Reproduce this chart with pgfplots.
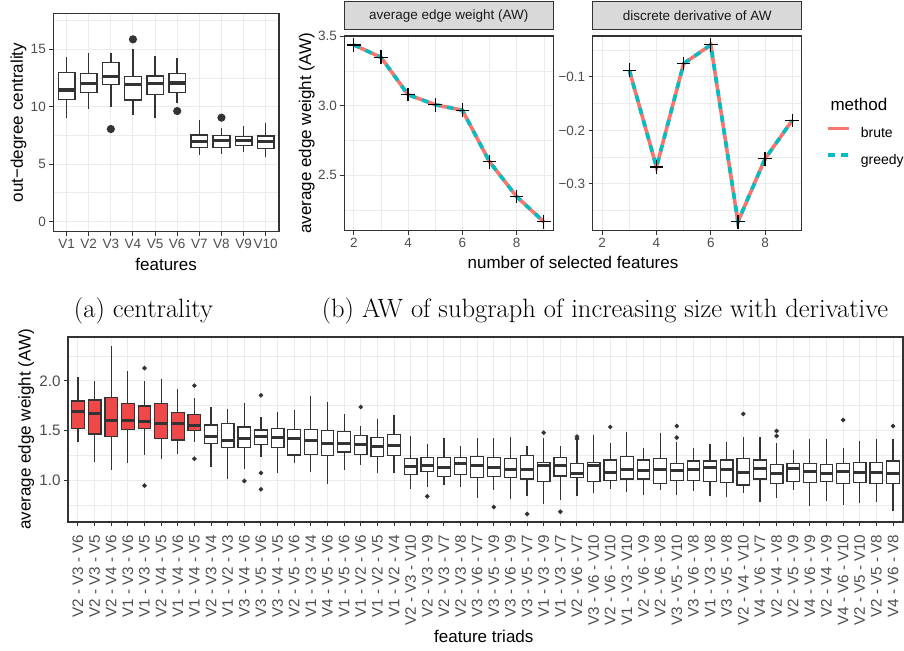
\documentclass[border=0pt]{standalone}
\usepackage{fontspec}
\usepackage{pgfplots}
\pgfplotsset{compat=1.18}
\usepgfplotslibrary{statistics}
\newfontfamily\lsans{Liberation Sans}
\definecolor{gray20}{HTML}{333333}
\definecolor{gray30}{HTML}{4D4D4D}
\definecolor{gray10}{HTML}{1A1A1A}
\definecolor{gray85}{HTML}{D9D9D9}
\definecolor{gray92}{HTML}{EBEBEB}
\definecolor{boxred}{RGB}{239,72,72}
\definecolor{brute}{HTML}{F8766D}
\definecolor{greedy}{HTML}{00BFC4}
\newcommand{\tickfont}{\lsans\fontsize{13.5}{16}\selectfont}
\newcommand{\bigtickfont}{\lsans\fontsize{15.2}{17}\selectfont}
\newcommand{\legfont}{\lsans\fontsize{14}{16}\selectfont}
\newcommand{\titlefont}{\lsans\fontsize{17}{20}\selectfont}
\pgfplotsset{
  gg/.style={
    scale only axis,
    anchor=north west,
    tick align=outside,
    tick pos=left,
    major tick length=4pt,
    minor tick length=0pt,
    tick style={draw=gray20, line width=1pt},
    axis line style={draw=gray20, line width=1.1pt},
    grid=both,
    major grid style={draw=gray92, line width=1pt},
    minor grid style={draw=gray92, line width=0.5pt},
    tick label style={font=\tickfont, text=gray30},
    label style={font=\titlefont, text=black},
    clip mode=individual,
  },
  bxa/.style={draw=gray20, line width=1.5pt, mark=*, mark size=3.3pt,
    mark options={fill=gray20, draw=gray20, solid},
    boxplot/draw direction=y,
    boxplot/box extend=0.75, boxplot/whisker extend=0,
    boxplot/every median/.style={line width=3.5pt}},
  bxb/.style={draw=gray20, line width=1.2pt, mark=*, mark size=1.6pt,
    mark options={fill=gray20, draw=gray20, solid},
    boxplot/draw direction=y,
    boxplot/box extend=0.76, boxplot/whisker extend=0,
    boxplot/every median/.style={line width=3pt}},
}
% #1 fill, #2 position, #3 lower whisker, #4 lower quartile, #5 median, #6 upper quartile, #7 upper whisker, #8 outliers
\newcommand{\ba}[8][white]{\addplot[bxa, fill=#1, boxplot prepared={draw position=#2, lower whisker=#3, lower quartile=#4, median=#5, upper quartile=#6, upper whisker=#7}] coordinates {#8};}
\newcommand{\bb}[8][white]{\addplot[bxb, fill=#1, boxplot prepared={draw position=#2, lower whisker=#3, lower quartile=#4, median=#5, upper quartile=#6, upper whisker=#7}] coordinates {#8};}

\begin{document}
\begin{tikzpicture}
\useasboundingbox (0,0) rectangle (904pt,-650pt);

% ---------------- (a) centrality
\begin{axis}[gg, at={(53.3pt,-13.3pt)}, width=225.7pt, height=218.4pt,
  xmin=0.4, xmax=10.6, ymin=-0.9, ymax=18.14,
  xtick={1,2,3,4,5,6,7,8,9,10},
  xticklabels={V1,V2,V3,V4,V5,V6,V7,V8,V9,V10},
  ytick={0,5,10,15}, yticklabels={0,5,10,15},
  minor ytick={2.5,7.5,12.5,17.5},
  xlabel={features}, ylabel={out−degree centrality},
  xlabel style={at={(axis description cs:0.5,-0.1786)}, anchor=base},
  ylabel style={at={(axis description cs:-0.1542,0.5)}, anchor=center},
]
\ba{1}{9.04}{10.64}{11.45}{13.0}{14.3}{}
\ba{2}{9.83}{11.22}{12.03}{12.91}{14.71}{}
\ba{3}{9.94}{11.95}{12.62}{13.84}{14.65}{(0,8.05)}
\ba{4}{9.27}{10.58}{11.95}{12.62}{15.0}{(0,15.87)}
\ba{5}{8.98}{11.08}{12.03}{12.67}{14.45}{}
\ba{6}{10.35}{11.22}{12.06}{12.88}{14.22}{(0,9.62)}
\ba{7}{5.78}{6.45}{6.95}{7.53}{8.84}{}
\ba{8}{5.84}{6.42}{7.03}{7.47}{8.11}{(0,9.04)}
\ba{9}{6.08}{6.63}{7.06}{7.38}{8.31}{}
\ba{10}{5.64}{6.37}{6.98}{7.44}{8.6}{}
\end{axis}

% ---------------- (b) left: AW
\begin{axis}[gg, at={(344.3pt,-36pt)}, width=209pt, height=194.7pt,
  xmin=1.65, xmax=9.35, ymin=2.101, ymax=3.501,
  xtick={2,4,6,8}, xticklabels={2,4,6,8}, minor xtick={3,5,7,9},
  ytick={2.5,3.0,3.5}, yticklabels={2.5,3.0,3.5}, minor ytick={2.25,2.75,3.25},
  title={average edge weight (AW)},
  title style={at={(0.5,1)}, anchor=south, yshift=0pt, draw=gray20, fill=gray85,
    line width=1.1pt, minimum width=209pt, minimum height=27.7pt, inner sep=0pt,
    font=\lsans\fontsize{13.5}{15}\selectfont, text=gray10},
  xlabel={number of selected features}, ylabel={average edge weight (AW)},
  xlabel style={at={(axis description cs:1.0943,-0.194)}, anchor=base},
  ylabel style={at={(axis description cs:-0.18,0.5)}, anchor=center},
]
\addplot[brute, line width=3.6pt] coordinates {(2,3.437) (3,3.348) (4,3.079) (5,3.007) (6,2.967) (7,2.597) (8,2.346) (9,2.165)};
\addplot[greedy, line width=3.6pt, dash pattern=on 6.5pt off 6.5pt] coordinates {(2,3.437) (3,3.348) (4,3.079) (5,3.007) (6,2.967) (7,2.597) (8,2.346) (9,2.165)};
\addplot[only marks, mark=+, mark size=6.8pt, black, line width=1.3pt] coordinates {(2,3.437) (3,3.348) (4,3.079) (5,3.007) (6,2.967) (7,2.597) (8,2.346) (9,2.165)};
\end{axis}

% ---------------- (b) right: derivative
\begin{axis}[gg, at={(592.7pt,-36pt)}, width=209pt, height=194.7pt,
  xmin=1.65, xmax=9.35, ymin=-0.3876, ymax=-0.0235,
  xtick={2,4,6,8}, xticklabels={2,4,6,8}, minor xtick={3,5,7,9},
  ytick={-0.3,-0.2,-0.1}, yticklabels={−0.3,−0.2,−0.1}, minor ytick={-0.35,-0.25,-0.15,-0.05},
  title={discrete derivative of AW},
  title style={at={(0.5,1)}, anchor=south, yshift=0pt, draw=gray20, fill=gray85,
    line width=1.1pt, minimum width=209pt, minimum height=27.7pt, inner sep=0pt,
    font=\lsans\fontsize{13.5}{15}\selectfont, text=gray10},
  legend style={at={(axis description cs:1.1163,0.535)}, anchor=north west, draw=none, fill=none,
    font=\legfont, inner sep=0pt, row sep=14pt, nodes={inner sep=0pt},
    /tikz/every odd column/.append style={column sep=10pt}},
  legend cell align=left,
  legend image code/.code={\draw[#1] (0pt,5pt) -- (21pt,5pt);},
]
\addplot[brute, line width=3.6pt] coordinates {(3,-0.0876) (4,-0.2687) (5,-0.0752) (6,-0.040) (7,-0.371) (8,-0.253) (9,-0.1814)};
\addlegendentry{brute}
\addplot[greedy, line width=3.6pt, dash pattern=on 6.5pt off 6.5pt] coordinates {(3,-0.0876) (4,-0.2687) (5,-0.0752) (6,-0.040) (7,-0.371) (8,-0.253) (9,-0.1814)};
\addlegendentry{greedy}
\addplot[only marks, mark=+, mark size=6.8pt, black, line width=1.3pt, forget plot] coordinates {(3,-0.0876) (4,-0.2687) (5,-0.0752) (6,-0.040) (7,-0.371) (8,-0.253) (9,-0.1814)};
\node[anchor=base west, font=\titlefont] at (axis description cs:1.1211,0.6199) {method};
\end{axis}

% ---------------- captions
\node[anchor=base, font=\fontsize{26.5}{30}\selectfont] at (143.5pt,-317pt) {(a) centrality};
\node[anchor=base, font=\fontsize{26.5}{30}\selectfont] at (605pt,-317pt) {(b) AW of subgraph of increasing size with derivative};

% ---------------- bottom: triads
\begin{axis}[gg, at={(68pt,-337pt)}, width=835pt, height=185pt,
  xmin=0.4, xmax=50.6, ymin=0.576, ymax=2.444,
  tick label style={font=\bigtickfont, text=gray30},
  xtick={1,...,50},
  xticklabels={V2 - V3 - V6,V2 - V3 - V5,V2 - V4 - V6,V1 - V3 - V6,V1 - V3 - V5,V2 - V4 - V5,V1 - V4 - V6,V1 - V4 - V5,V2 - V3 - V4,V1 - V2 - V3,V3 - V4 - V6,V3 - V5 - V6,V3 - V4 - V5,V2 - V5 - V6,V1 - V3 - V4,V4 - V5 - V6,V1 - V5 - V6,V1 - V2 - V6,V1 - V2 - V5,V1 - V2 - V4,V2 - V3 - V10,V2 - V3 - V9,V2 - V3 - V7,V2 - V3 - V8,V3 - V6 - V7,V3 - V5 - V9,V3 - V6 - V9,V3 - V5 - V7,V1 - V3 - V9,V1 - V3 - V7,V2 - V6 - V7,V3 - V6 - V10,V2 - V6 - V10,V1 - V3 - V10,V2 - V6 - V9,V2 - V6 - V8,V3 - V5 - V10,V3 - V6 - V8,V1 - V3 - V8,V3 - V5 - V8,V2 - V4 - V10,V4 - V6 - V7,V2 - V4 - V8,V2 - V5 - V9,V4 - V6 - V9,V2 - V4 - V9,V4 - V6 - V10,V2 - V5 - V10,V2 - V5 - V8,V4 - V6 - V8},
  xticklabel style={rotate=90, anchor=east},
  xticklabel shift=5pt,
  ytick={1.0,1.5,2.0}, yticklabels={1.0,1.5,2.0}, minor ytick={0.75,1.25,1.75,2.25},
  xlabel={feature triads}, ylabel={average edge weight (AW)},
  xlabel style={at={(axis description cs:0.498,-0.654)}, anchor=base},
  ylabel style={at={(axis description cs:-0.0499,0.5)}, anchor=center},
]
\bb[boxred]{1}{1.387}{1.522}{1.694}{1.798}{2.037}{}
\bb[boxred]{2}{1.185}{1.465}{1.673}{1.808}{2.0}{}
\bb[boxred]{3}{1.10}{1.438}{1.60}{1.832}{2.354}{}
\bb[boxred]{4}{1.175}{1.512}{1.60}{1.774}{2.10}{}
\bb[boxred]{5}{1.25}{1.522}{1.589}{1.747}{2.0}{(0,2.13) (0,0.943)}
\bb[boxred]{6}{1.209}{1.418}{1.572}{1.774}{2.017}{}
\bb[boxred]{7}{1.26}{1.404}{1.572}{1.68}{1.919}{}
\bb[boxred]{8}{1.387}{1.498}{1.549}{1.663}{1.825}{(0,1.953) (0,1.215)}
\bb{9}{1.128}{1.37}{1.438}{1.556}{1.741}{}
\bb{10}{1.01}{1.327}{1.394}{1.569}{1.717}{}
\bb{11}{1.108}{1.327}{1.421}{1.535}{1.778}{(0,0.99)}
\bb{12}{1.236}{1.357}{1.438}{1.505}{1.633}{(0,1.855) (0,1.071) (0,0.906)}
\bb{13}{1.067}{1.327}{1.431}{1.519}{1.684}{}
\bb{14}{1.168}{1.253}{1.418}{1.512}{1.707}{}
\bb{15}{1.077}{1.259}{1.394}{1.512}{1.848}{}
\bb{16}{0.96}{1.246}{1.37}{1.498}{1.791}{}
\bb{17}{1.101}{1.283}{1.37}{1.488}{1.667}{}
\bb{18}{1.152}{1.259}{1.36}{1.448}{1.549}{(0,1.737)}
\bb{19}{1.067}{1.236}{1.343}{1.428}{1.62}{}
\bb{20}{1.067}{1.246}{1.347}{1.461}{1.653}{}
\bb{21}{0.912}{1.057}{1.135}{1.215}{1.444}{}
\bb{22}{0.926}{1.084}{1.145}{1.226}{1.36}{(0,0.835)}
\bb{23}{0.949}{1.037}{1.125}{1.226}{1.421}{}
\bb{24}{0.926}{1.057}{1.165}{1.226}{1.347}{}
\bb{25}{0.815}{1.024}{1.145}{1.236}{1.421}{}
\bb{26}{0.9}{1.034}{1.125}{1.226}{1.421}{(0,0.727)}
\bb{27}{0.805}{1.024}{1.108}{1.215}{1.431}{}
\bb{28}{0.842}{1.01}{1.108}{1.249}{1.347}{(0,0.657)}
\bb{29}{0.761}{0.983}{1.145}{1.175}{1.421}{(0,1.478)}
\bb{30}{0.795}{1.04}{1.145}{1.226}{1.347}{(0,0.68)}
\bb{31}{0.842}{1.024}{1.067}{1.165}{1.404}{(0,1.438) (0,1.416)}
\bb{32}{0.865}{0.983}{1.145}{1.175}{1.455}{}
\bb{33}{0.912}{0.997}{1.074}{1.202}{1.37}{(0,1.535)}
\bb{34}{0.875}{1.01}{1.111}{1.239}{1.481}{}
\bb{35}{0.852}{1.01}{1.101}{1.202}{1.327}{}
\bb{36}{0.9}{0.963}{1.111}{1.215}{1.471}{}
\bb{37}{0.852}{0.997}{1.101}{1.165}{1.384}{(0,1.545) (0,1.428)}
\bb{38}{0.889}{0.997}{1.111}{1.192}{1.327}{}
\bb{39}{0.842}{0.983}{1.128}{1.192}{1.36}{}
\bb{40}{0.832}{0.973}{1.111}{1.202}{1.384}{}
\bb{41}{0.865}{0.949}{1.074}{1.215}{1.431}{(0,1.667)}
\bb{42}{0.781}{1.01}{1.118}{1.202}{1.431}{}
\bb{43}{0.818}{0.963}{1.061}{1.155}{1.37}{(0,1.495) (0,1.444)}
\bb{44}{0.9}{0.987}{1.121}{1.165}{1.303}{}
\bb{45}{0.737}{0.973}{1.084}{1.165}{1.411}{}
\bb{46}{0.791}{0.987}{1.067}{1.155}{1.411}{}
\bb{47}{0.747}{0.963}{1.084}{1.165}{1.327}{(0,1.606)}
\bb{48}{0.771}{0.973}{1.074}{1.178}{1.397}{}
\bb{49}{0.781}{0.963}{1.074}{1.178}{1.411}{}
\bb{50}{0.69}{0.963}{1.061}{1.192}{1.411}{(0,1.545)}
\end{axis}
\end{tikzpicture}
\end{document}
